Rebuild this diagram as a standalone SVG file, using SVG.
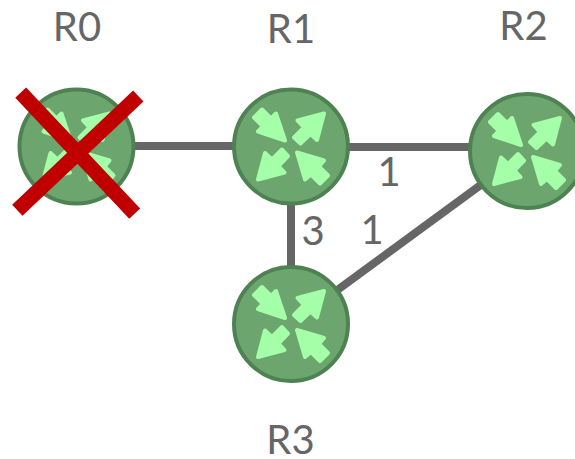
<svg xmlns="http://www.w3.org/2000/svg" width="575" height="459" viewBox="0 0 575 459">
<style>
.c{stroke:#666;stroke-width:8;fill:none}
.t{font-family:"Lato","Carlito","Open Sans",sans-serif;font-size:40px;fill:#666;text-anchor:middle}
.b{fill:#6ca66e;stroke:#4f8253;stroke-width:4}
.a{fill:#a5ffa8;stroke:#a5ffa8;stroke-width:4;stroke-linejoin:round}
.x{stroke:#c00000;stroke-width:15;fill:none}
</style>
<defs>
<g id="router">
<circle class="b" r="57"/>
<path class="a" d="M-6,-6L-33,-15L-28,-20L-37,-29L-29,-37L-20,-28L-15,-33Z"/>
<path class="a" d="M33,-33L6.500,-26L13,-19L3,-9L9.500,-3L19.500,-12.500L26,-6.500Z"/>
<path class="a" d="M-33,33L-26,6.500L-19,13L-9,3L-3,9.500L-12.500,19.500L-6.500,26Z"/>
<path class="a" d="M6,6L33,14L28,20L37,29L29,37L20,28L14,33Z"/>
</g>
</defs>
<g id="connectors">
<path class="c" d="M76,146H291"/>
<path class="c" d="M291,147H527"/>
<path class="c" d="M291,147V324"/>
<path class="c" d="M527,151L291,324"/>
</g>
<g id="R0"><use href="#router" x="76.500" y="146.500"/><text class="t" x="77" y="41">R0</text>
<path class="x" d="M20.700,92.700L134.700,213.700M138.300,96L17.300,210.300"/></g>
<g id="R1"><use href="#router" x="291" y="146.500"/><text class="t" x="291" y="43">R1</text></g>
<g id="R2"><use href="#router" x="527" y="151"/><text class="t" x="523.500" y="40">R2</text></g>
<g id="R3"><use href="#router" x="291" y="324"/><text class="t" x="290.500" y="454">R3</text></g>
<text class="t" x="389" y="186">1</text>
<text class="t" x="313" y="245">3</text>
<text class="t" x="372" y="244">1</text>
</svg>
